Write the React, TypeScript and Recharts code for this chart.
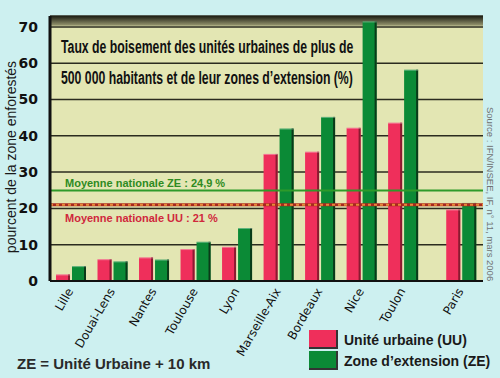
import React from 'react';
import { BarChart, Bar, XAxis, YAxis, CartesianGrid, ReferenceLine, ReferenceArea, Legend } from 'recharts';

const cities = ['Lille', 'Douai-Lens', 'Nantes', 'Toulouse', 'Lyon', 'Marseille-Aix', 'Bordeaux', 'Nice', 'Toulon', 'Paris'];
const uniteUrbaine = [1.8, 6.0, 6.5, 8.8, 9.4, 35.0, 35.6, 42.2, 43.6, 19.7];
const zoneExtension = [4.1, 5.4, 5.9, 10.8, 14.6, 42.0, 45.2, 71.5, 58.2, 21.5];
const yTicks = [0, 10, 20, 30, 40, 50, 60, 70];
const moyenneZE = 24.9;
const moyenneUU = 21;

// Paris is set apart from the other agglomerations by a small gap
const data = cities.map((city, i) => ({
  city,
  slot: i + (city === 'Paris' ? 0.4 : 0),
  uu: uniteUrbaine[i],
  ze: zoneExtension[i],
}));

const RED = '#ef2f5b';
const GREEN = '#0b8a36';
const SANS = 'Liberation Sans, Arial, sans-serif';

const BarShape = (props: any) => {
  const { x, y, width, height, fill, dark } = props;
  if (!height || height <= 0) return null;
  return (
    <g>
      <rect x={x} y={y} width={width} height={height} fill={fill} />
      <rect x={x + width - 2} y={y} width={2} height={height} fill={dark} />
      <rect x={x} y={y} width={width} height={1} fill="#ffffff" fillOpacity={0.35} />
    </g>
  );
};

const CityTick = (props: any) => {
  const { x, y, payload } = props;
  const d = data.find((r) => r.slot === payload.value);
  return (
    <text
      x={x + 3}
      y={y + 2}
      transform={`rotate(-60, ${x + 3}, ${y + 2})`}
      textAnchor="end"
      fontFamily="DejaVu Sans, sans-serif"
      fontSize={12}
      fill="#111"
    >
      {d ? d.city : ''}
    </text>
  );
};

const renderLegend = (props: any) => (
  <div style={{ fontFamily: SANS, fontWeight: 'bold', fontSize: 14, color: '#1a1a1a' }}>
    {(props.payload || []).map((entry: any) => (
      <div key={entry.value} style={{ display: 'flex', alignItems: 'center', height: 21 }}>
        <span
          style={{
            display: 'inline-block',
            width: 27,
            height: 17,
            background: entry.color,
            borderRight: '2px solid #333',
            borderBottom: '2px solid #333',
            marginRight: 6,
          }}
        />
        <span>{entry.value}</span>
      </div>
    ))}
  </div>
);

const zeLabel = (props: any) => {
  const { viewBox } = props;
  return (
    <text x={viewBox.x + 15} y={viewBox.y - 4} fill="#2e8b22" fontFamily={SANS} fontWeight="bold" fontSize={11}>
      Moyenne nationale ZE : 24,9 %
    </text>
  );
};

const uuLabel = (props: any) => {
  const { viewBox } = props;
  return (
    <text x={viewBox.x + 15} y={viewBox.y + 17} fill="#d0283c" fontFamily={SANS} fontWeight="bold" fontSize={11}>
      Moyenne nationale UU : 21 %
    </text>
  );
};

export default function App() {
  return (
    <div style={{ position: 'fixed', left: 0, top: 0, width: 500, height: 378, background: '#cdf0f0' }}>
      <BarChart
        width={500}
        height={378}
        data={data}
        margin={{ top: 16, right: 17, bottom: 17, left: 0 }}
        barGap={2}
      >
        <defs>
          <linearGradient id="topShade" x1="0" y1="0" x2="0" y2="1">
            <stop offset="0%" stopColor="#1e1e14" />
            <stop offset="100%" stopColor="#9a9a72" />
          </linearGradient>
        </defs>
        <CartesianGrid vertical={false} fill="#e3e6b3" stroke="#2b2b1f" strokeWidth={1.5} strokeOpacity={1} />
        <ReferenceArea y1={70.3} y2={73} fill="url(#topShade)" fillOpacity={1} ifOverflow="hidden" />
        <XAxis
          type="number"
          dataKey="slot"
          domain={[-0.5, 9.93]}
          allowDataOverflow
          ticks={data.map((d) => d.slot)}
          interval={0}
          height={80}
          tickLine={false}
          axisLine={{ stroke: '#111', strokeWidth: 2 }}
          tick={<CityTick />}
        />
        <YAxis
          width={50}
          domain={[0, 73]}
          ticks={yTicks}
          allowDataOverflow
          tickLine={false}
          axisLine={{ stroke: '#111', strokeWidth: 3 }}
          tickMargin={6}
          tick={{ fill: '#111', fontSize: 14, fontWeight: 'bold', fontFamily: 'DejaVu Sans, sans-serif' }}
        />
        <ReferenceLine y={moyenneZE} stroke="#2e9a2a" strokeWidth={2} label={{ content: zeLabel }} />
        <ReferenceLine y={moyenneUU} stroke="#a8281e" strokeWidth={3} label={{ content: uuLabel }} />
        <ReferenceLine y={moyenneUU} stroke="#e88a3a" strokeWidth={2} strokeDasharray="3 3" />
        <Bar
          dataKey="uu"
          name="Unité urbaine (UU)"
          fill={RED}
          barSize={14}
          isAnimationActive={false}
          shape={(p: any) => <BarShape {...p} dark="#8a1a30" />}
        />
        <Bar
          dataKey="ze"
          name="Zone d’extension (ZE)"
          fill={GREEN}
          barSize={14}
          isAnimationActive={false}
          shape={(p: any) => <BarShape {...p} dark="#0a3a18" />}
        />
        <Legend
          layout="vertical"
          align="center"
          verticalAlign="middle"
          content={renderLegend}
          wrapperStyle={{ left: 309, top: 329, width: 190 }}
        />
        <text transform="translate(61, 53) scale(0.645, 1)" fontFamily={SANS} fontSize={19} fontWeight="bold" fill="#111">
          Taux de boisement des unités urbaines de plus de
        </text>
        <text transform="translate(61, 84) scale(0.645, 1)" fontFamily={SANS} fontSize={19} fontWeight="bold" fill="#111">
          500 000 habitants et de leur zones d’extension (%)
        </text>
        <text x={16} y={157} transform="rotate(-90, 16, 157)" textAnchor="middle" fontFamily={SANS} fontSize={14} fill="#1a1a1a">
          pourcent de la zone enforestés
        </text>
        <text x={487} y={107} transform="rotate(90, 487, 107)" fontFamily={SANS} fontSize={9.5} fill="#707070">
          Source : IFN/INSEE, IF, n° 11, mars 2006
        </text>
        <text x={17} y={369} fontFamily={SANS} fontSize={15} fontWeight="bold" fill="#2a2a2a">
          ZE = Unité Urbaine + 10 km
        </text>
      </BarChart>
    </div>
  );
}
